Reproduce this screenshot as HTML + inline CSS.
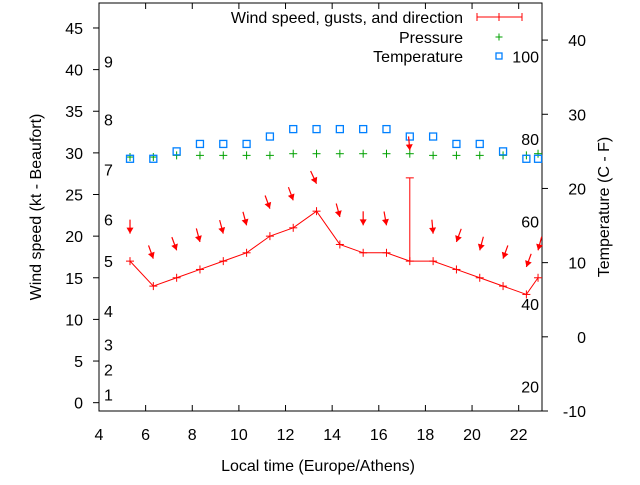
<!DOCTYPE html>
<html><head><meta charset="utf-8"><style>
body{margin:0;background:#fff}
svg text{font-family:"Liberation Sans",sans-serif;font-size:16px;fill:#000}
</style></head><body>
<svg id="chart" width="640" height="480" viewBox="0 0 640 480" xmlns="http://www.w3.org/2000/svg">
<g id="g"></g>
</svg>
<script>
const hours=[5.33,6.33,7.33,8.33,9.33,10.33,11.33,12.33,13.33,14.33,15.33,16.33,17.33,18.33,19.33,20.33,21.33,22.33,22.83];
const windKt=[17,14,15,16,17,18,20,21,23,19,18,18,17,17,16,15,14,13,15];
const gustKt=[null,null,null,null,null,null,null,null,null,null,null,null,27,null,null,null,null,null,null];
const windDir=[0,340,340,345,345,345,340,340,335,345,0,350,355,355,20,15,20,20,15];
const tempC=[24,24,25,26,26,26,27,28,28,28,28,28,27,27,26,26,25,24,24];
const pressureHpa=[1013,1013,1014,1014,1014,1014,1014,1015,1015,1015,1015,1015,1015,1014,1014,1014,1014,1014,1015];
const xTicks=[4,6,8,10,12,14,16,18,20,22];
const yTicks=[0,5,10,15,20,25,30,35,40,45];
const y2Ticks=[-10,0,10,20,30,40];
const beaufortKt=[1,4,7,11,17,22,28,34,41];
const fahrenheit=[20,40,60,80,100];

const L=99,R=542,T=3,B=411;
const X=h=>L+(h-4)*(R-L)/19;
const Y=v=>B-(v+1)*(B-T)/49;
const Y2=c=>B-(c+10)*(B-T)/55;
const P=p=>Y(29.7+(p-1014)*0.2);
const g=document.getElementById('g');
const NS='http://www.w3.org/2000/svg';
function el(t,a,parent){const e=document.createElementNS(NS,t);for(const k in a)e.setAttribute(k,a[k]);(parent||g).appendChild(e);return e;}

let f=el('rect',{x:L,y:T,width:R-L,height:B-T,fill:'none',stroke:'#000','stroke-width':1});



xTicks.forEach(h=>{
  const x=X(h);
  let t=el('line',{x1:x,y1:B,x2:x,y2:B-6,stroke:'#000'});
  
  
  el('line',{x1:x,y1:T,x2:x,y2:T+6,stroke:'#000'});
  let tx=el('text',{x:x,y:B+29,'text-anchor':'middle'});tx.textContent=h;
  
  
});
yTicks.forEach(v=>{
  const y=Y(v);
  let t=el('line',{x1:L-6,y1:y,x2:L,y2:y,stroke:'#000'});
  
  
  let tx=el('text',{x:L-16,y:y+6,'text-anchor':'end'});tx.textContent=v;
  
  
});
y2Ticks.forEach(c=>{
  const y=Y2(c);
  let t=el('line',{x1:R,y1:y,x2:R+6,y2:y,stroke:'#000'});
  
  
  let tx=el('text',{x:R+44,y:y+6,'text-anchor':'end'});tx.textContent=c;
  
  
});
beaufortKt.forEach((k,i)=>{
  let tx=el('text',{x:104,y:Y(k)+6});tx.textContent=i+1;
  
  
});
fahrenheit.forEach(F=>{
  let tx=el('text',{x:539,y:Y2((F-32)*5/9)+6,'text-anchor':'end'});tx.textContent=F;
  
  
});

let xt=el('text',{x:318,y:471,'text-anchor':'middle'});xt.textContent='Local time (Europe/Athens)';


let yt=el('text',{x:0,y:0,'text-anchor':'middle',transform:'translate(41,207) rotate(-90)'});yt.textContent='Wind speed (kt - Beaufort)';


let y2t=el('text',{x:0,y:0,'text-anchor':'middle',transform:'translate(609,207) rotate(-90)'});y2t.textContent='Temperature (C - F)';



function plus(x,y,c,s){const gg=el('g',{stroke:c,'stroke-width':1});el('line',{x1:x-s,y1:y,x2:x+s,y2:y},gg);el('line',{x1:x,y1:y-s,x2:x,y2:y+s},gg);return gg;}

pressureHpa.forEach((p,i)=>{
  let m=plus(X(hours[i]),P(p),'#00a000',4);
  
  
});
tempC.forEach((c,i)=>{
  let r=el('rect',{x:X(hours[i])-3.5,y:Y2(c)-3.5,width:7,height:7,fill:'none',stroke:'#0080ff','stroke-width':1.3});
  
  
});
let pts=windKt.map((w,i)=>X(hours[i])+','+Y(w)).join(' ');
let pl=el('polyline',{points:pts,fill:'none',stroke:'#f00','stroke-width':1});


windKt.forEach((w,i)=>{
  let m=plus(X(hours[i]),Y(w),'#f00',4);
  
  
  if(gustKt[i]!=null){
    const x=X(hours[i]);
    let gl=el('g',{stroke:'#f00','stroke-width':1});
    el('line',{x1:x,y1:Y(w),x2:x,y2:Y(gustKt[i])},gl);
    el('line',{x1:x-4,y1:Y(gustKt[i]),x2:x+4,y2:Y(gustKt[i])},gl);
    
    
  }
  const top=Math.max(w,gustKt[i]||0)+3.3;
  const tx=X(hours[i]),ty=Y(top);
  const a=windDir[i]*Math.PI/180;
  const dx=-Math.sin(a),dy=Math.cos(a);
  const len=14;
  const sx=tx-dx*len,sy=ty-dy*len;
  const ag=el('g',{});
  el('line',{x1:sx,y1:sy,x2:tx,y2:ty,stroke:'#f00','stroke-width':1.2},ag);
  const px=-dy,py=dx,h=6,wd=3.5;
  el('polygon',{points:`${tx},${ty} ${tx-dx*h+px*wd},${ty-dy*h+py*wd} ${tx-dx*h-px*wd},${ty-dy*h-py*wd}`,fill:'#f00'},ag);
  
  
});

const lg=el('g',{});


[['Wind speed, gusts, and direction',17],['Pressure',37],['Temperature',56]].forEach(([t,y])=>{
  let tx=el('text',{x:463,y:y+6,'text-anchor':'end'},lg);tx.textContent=t;
  
  
});
const eb=el('g',{stroke:'#f00'},lg);
el('line',{x1:477,y1:17,x2:522,y2:17},eb);el('line',{x1:477,y1:13,x2:477,y2:21},eb);
el('line',{x1:522,y1:13,x2:522,y2:21},eb);el('line',{x1:499,y1:13,x2:499,y2:21},eb);
plus(499,37,'#00a000',3.5);
el('rect',{x:496,y:53,width:6,height:6,fill:'none',stroke:'#0080ff','stroke-width':1.3},lg);
</script>
</body></html>
